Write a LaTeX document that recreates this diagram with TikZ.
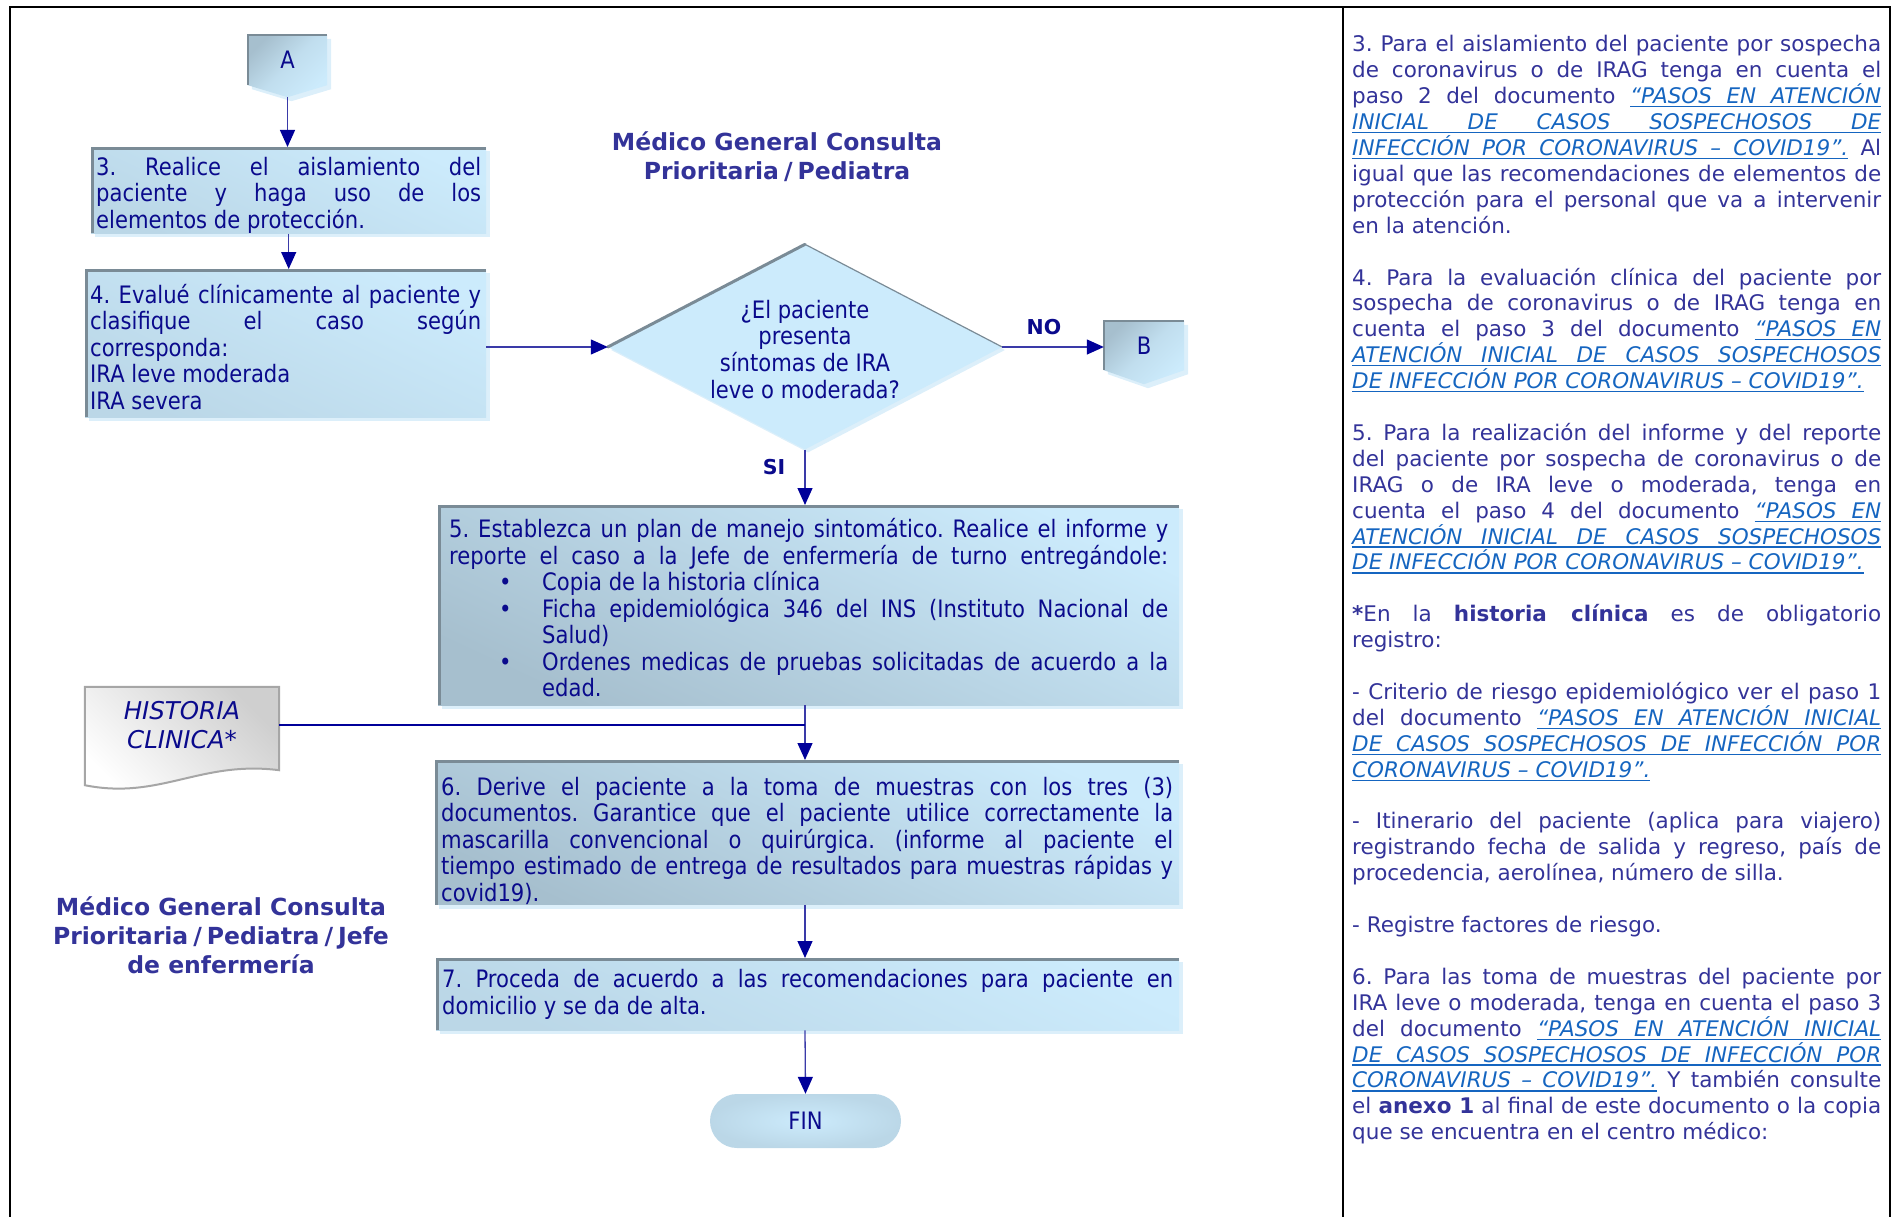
\documentclass[tikz,border=0pt]{standalone}
\usepackage{fontspec}
\setmainfont{DejaVu Sans}
\newfontfamily\tah{DejaVu Sans}[FakeStretch=0.88]
\usetikzlibrary{shapes.geometric,arrows.meta,calc,backgrounds,shadows}
\frenchspacing
\definecolor{boxtext}{HTML}{0A0A8C}
\definecolor{titlec}{HTML}{333399}
\definecolor{rtext}{HTML}{333399}
\definecolor{linkc}{HTML}{1565C0}
\definecolor{boxlight}{HTML}{CCEBFC}
\definecolor{boxdark}{HTML}{A6BFCE}
\definecolor{edgec}{HTML}{7A8B96}
\definecolor{shadowc}{HTML}{DCEFFA}
\definecolor{linec}{HTML}{3A3AA8}
\definecolor{tipc}{HTML}{000099}
\newcommand\JL[1]{\hbox to\hsize{#1}}
\newcommand\NL[1]{\hbox{#1}}
\newcommand\BL{\hbox{}}
\newcommand\slh{\kern5pt/\kern5pt}
\def\ulw#1{\setbox0\hbox{#1}\rlap{\vrule height -2.4pt depth 3.6pt width\wd0}\box0}
\def\ulsp{\leaders\hrule height -2.4pt depth 3.6pt\hskip\fontdimen2\font plus\fontdimen3\font minus\fontdimen4\font\relax}
\def\lkparse#1 #2\relax{\ulw{#1}\ifx\relax#2\relax\else\ulsp\lkparse#2\relax\fi}
\newcommand\lk[1]{{\color{linkc}\itshape\lkparse#1 \relax}}
\newcommand\BT[3]{\vbox{\hsize=#1\relax\tah\fontsize{24}{26.5}\selectfont\lineskiplimit=-100pt\relax\vskip#2\relax #3}}
\newcommand\BU[1]{\hbox to\hsize{\hskip50pt\hbox to43pt{•\hss}\hbox to\dimexpr\hsize-93pt\relax{#1}}}
\newcommand\BUN[1]{\hbox to\hsize{\hskip50pt\hbox to43pt{•\hss}#1\hss}}
\newcommand\BUC[1]{\hbox to\hsize{\hskip93pt #1\hss}}
\tikzset{
  flowbox/.style={rectangle, anchor=north west, inner sep=0pt, text=boxtext,
    top color=boxlight, bottom color=#1, shading angle=-25,
    drop shadow={shadow xshift=4pt, shadow yshift=-4pt, fill=shadowc, opacity=1},
    path picture={\draw[edgec, line width=5pt] (path picture bounding box.south west) -- (path picture bounding box.north west) -- (path picture bounding box.north east);}},
  flowbox/.default=boxdark,
  arr/.style={linec, line width=1.3pt, -{Triangle[length=17pt,width=15pt,color=tipc]}},
  hcline/.style={tipc, line width=1.8pt},
  connbox/.style={rectangle, inner sep=0pt, text=boxtext, font=\tah\fontsize{24}{26.5}\selectfont},
  connfill/.style={top color=boxdark, bottom color=boxlight, middle color=boxlight!70!boxdark, shading angle=45},
  lbl/.style={text=boxtext, font=\bfseries\fontsize{20.5}{24}\selectfont},
  ttl/.style={text=titlec, font=\bfseries\fontsize{23.5}{29}\selectfont, align=center},
  frame/.style={black, line width=2.5pt},
}
\begin{document}
\begin{tikzpicture}[x=1pt,y=-1pt]
\useasboundingbox (0,0) rectangle (1894,1217);
% titles
\node[ttl] (t1) at (777,157) {Médico General Consulta\\Prioritaria\slh Pediatra};
\node[ttl] (t2) at (221,935) {Médico General Consulta\\Prioritaria\slh Pediatra\slh Jefe\\de enfermería};
% connectors A and B
\node[connbox, minimum width=79pt, minimum height=50pt] (A) at (287.5,60) {A};
\coordinate (Atip) at ($(A.south)+(0,12)$);
\node[connbox, minimum width=80pt, minimum height=49pt] (B) at (1144,345.5) {B};
\coordinate (Btip) at ($(B.south)+(0,14)$);
% boxes
\node[flowbox=boxlight!55!boxdark, minimum width=395pt, minimum height=83pt] (b3) at (91,147) {\BT{385pt}{10pt}{\JL{3. Realice el aislamiento del}\JL{paciente y haga uso de los}\NL{elementos de protección.}}};
\node[flowbox=boxlight!55!boxdark, minimum width=401pt, minimum height=148pt] (b4) at (85,269) {\BT{391pt}{7pt}{\JL{4. Evalué clínicamente al paciente y}\JL{clasifique el caso según}\NL{corresponda:}\NL{IRA leve moderada}\NL{IRA severa}}};
\node[diamond, aspect=1.92, minimum width=394pt, minimum height=205pt, inner sep=0pt, fill=boxlight, text=boxtext,
  drop shadow={shadow xshift=3pt, shadow yshift=-3pt, fill=shadowc, opacity=1}] (dec) at (805,347)
  {\makebox[0pt]{\raisebox{-12pt}[0pt][0pt]{\tah\fontsize{24}{26.5}\selectfont\begin{tabular}{@{}c@{}}¿El paciente\\presenta\\síntomas de IRA\\leve o moderada?\end{tabular}}}};
\draw[edgec, line width=3pt, line cap=round] (dec.west) -- (dec.north);
\draw[edgec, line width=1.2pt] (dec.north) -- (dec.east);
\node[flowbox, minimum width=741pt, minimum height=200pt] (b5) at (438,505) {\BT{719pt}{5pt}{%
  \JL{5. Establezca un plan de manejo sintomático. Realice el informe y}%
  \JL{reporte el caso a la Jefe de enfermería de turno entregándole:}%
  \BUN{Copia de la historia clínica}%
  \BU{Ficha epidemiológica 346 del INS (Instituto Nacional de}%
  \BUC{Salud)}%
  \BU{Ordenes medicas de pruebas solicitadas de acuerdo a la}%
  \BUC{edad.}}};
\node[flowbox, minimum width=744pt, minimum height=144pt] (b6) at (435,760) {\BT{732pt}{17pt}{%
  \JL{6. Derive el paciente a la toma de muestras con los tres (3)}%
  \JL{documentos. Garantice que el paciente utilice correctamente la}%
  \JL{mascarilla convencional o quirúrgica. (informe al paciente el}%
  \JL{tiempo estimado de entrega de resultados para muestras rápidas y}%
  \NL{covid19).}}};
\node[flowbox=boxlight!55!boxdark, minimum width=743pt, minimum height=72pt] (b7) at (436,958) {\BT{731pt}{0pt}{%
  \JL{7. Proceda de acuerdo a las recomendaciones para paciente en}%
  \NL{domicilio y se da de alta.}}};
\node[rectangle, rounded corners=27pt, minimum width=191pt, minimum height=54pt, inner color=boxlight, outer color=boxlight!55!boxdark, text=boxtext, font=\tah\fontsize{24}{26.5}\selectfont] (fin) at (805.5,1121) {FIN};
% historia clinica
\node[text=boxtext, font=\itshape\fontsize{24.5}{29}\selectfont, align=center, minimum width=194pt, minimum height=76pt, inner sep=0pt] (hc) at (182,725) {HISTORIA\\CLINICA*};
% labels
\node[lbl] (no) at (1044,327) {NO};
\node[lbl] (si) at (774,467) {SI};
% background shapes
\begin{scope}[on background layer]
  \fill[shadowc] ($(A.north west)+(4,4)$) -- ($(A.north east)+(4,4)$) -- ($(A.south east)+(4,4)$) -- ($(Atip)+(4,4)$) -- ($(A.south west)+(4,4)$) -- cycle;
  \shade[connfill] (A.north west) -- (A.north east) -- (A.south east) -- (Atip) -- (A.south west) -- cycle;
  \draw[edgec, line width=2.5pt] (A.south west) -- (A.north west) -- (A.north east);
  \fill[shadowc] ($(B.north west)+(4,4)$) -- ($(B.north east)+(4,4)$) -- ($(B.south east)+(4,4)$) -- ($(Btip)+(4,4)$) -- ($(B.south west)+(4,4)$) -- cycle;
  \shade[connfill] (B.north west) -- (B.north east) -- (B.south east) -- (Btip) -- (B.south west) -- cycle;
  \draw[edgec, line width=2.5pt] (B.south west) -- (B.north west) -- (B.north east);
  \shade[top color=gray!38, bottom color=white, shading angle=-45, draw=gray!70, line width=2pt]
    (hc.north west) -- (hc.north east) -- ($(hc.south east)+(0,7)$)
    .. controls ($(hc.south east)+(-79,-3)$) and ($(hc.south west)+(75,37)$) .. ($(hc.south west)+(0,22)$) -- cycle;
\end{scope}
% connectors
\draw[arr] (Atip) -- (Atip |- b3.north);
\draw[arr] (b3.south) -- (b3.south |- b4.north);
\draw[arr] (b4.east |- dec.west) -- (dec.west);
\draw[arr] (dec.east) -- (dec.east -| B.west);
\draw[arr] (dec.south) -- (dec.south |- b5.north);
\draw[arr] (dec.south |- b5.south) -- (dec.south |- b6.north);
\coordinate (J) at (dec.south |- hc.east);
\draw[hcline] (hc.east) -- (J);
\draw[arr] (dec.south |- b6.south) -- (dec.south |- b7.north);
\draw[arr] (dec.south |- b7.south) -- (fin.north);
% right column
\node[anchor=base west, inner sep=0pt, text=rtext] (notes) at (1352,52) {\vtop{\hsize=529pt\relax\fontsize{21.5}{25.9}\selectfont\lineskiplimit=-100pt\relax
\JL{3. Para el aislamiento del paciente por sospecha}
\JL{de coronavirus o de IRAG tenga en cuenta el}
\JL{paso 2 del documento \lk{“PASOS EN ATENCIÓN}}
\JL{\lk{INICIAL DE CASOS SOSPECHOSOS DE}}
\JL{\lk{INFECCIÓN POR CORONAVIRUS – COVID19”.} Al}
\JL{igual que las recomendaciones de elementos de}
\JL{protección para el personal que va a intervenir}
\NL{en la atención.}
\BL
\JL{4. Para la evaluación clínica del paciente por}
\JL{sospecha de coronavirus o de IRAG tenga en}
\JL{cuenta el paso 3 del documento \lk{“PASOS EN}}
\JL{\lk{ATENCIÓN INICIAL DE CASOS SOSPECHOSOS}}
\NL{\lk{DE INFECCIÓN POR CORONAVIRUS – COVID19”.}}
\BL
\JL{5. Para la realización del informe y del reporte}
\JL{del paciente por sospecha de coronavirus o de}
\JL{IRAG o de IRA leve o moderada, tenga en}
\JL{cuenta el paso 4 del documento \lk{“PASOS EN}}
\JL{\lk{ATENCIÓN INICIAL DE CASOS SOSPECHOSOS}}
\NL{\lk{DE INFECCIÓN POR CORONAVIRUS – COVID19”.}}
\BL
\JL{\textbf{*}En la \textbf{historia clínica} es de obligatorio}
\NL{registro:}
\BL
\JL{- Criterio de riesgo epidemiológico ver el paso 1}
\JL{del documento \lk{“PASOS EN ATENCIÓN INICIAL}}
\JL{\lk{DE CASOS SOSPECHOSOS DE INFECCIÓN POR}}
\NL{\lk{CORONAVIRUS – COVID19”.}}
\BL
\JL{- Itinerario del paciente (aplica para viajero)}
\JL{registrando fecha de salida y regreso, país de}
\NL{procedencia, aerolínea, número de silla.}
\BL
\NL{- Registre factores de riesgo.}
\BL
\JL{6. Para las toma de muestras del paciente por}
\JL{IRA leve o moderada, tenga en cuenta el paso 3}
\JL{del documento \lk{“PASOS EN ATENCIÓN INICIAL}}
\JL{\lk{DE CASOS SOSPECHOSOS DE INFECCIÓN POR}}
\JL{\lk{CORONAVIRUS – COVID19”.} Y también consulte}
\JL{el \textbf{anexo 1} al final de este documento o la copia}
\NL{que se encuentra en el centro médico:}
}};
% frame
\draw[frame] (10,1217) -- (10,7) -- (1890,7) -- (1890,1217);
\draw[frame] (1343,7) -- (1343,1217);
\end{tikzpicture}
\end{document}
